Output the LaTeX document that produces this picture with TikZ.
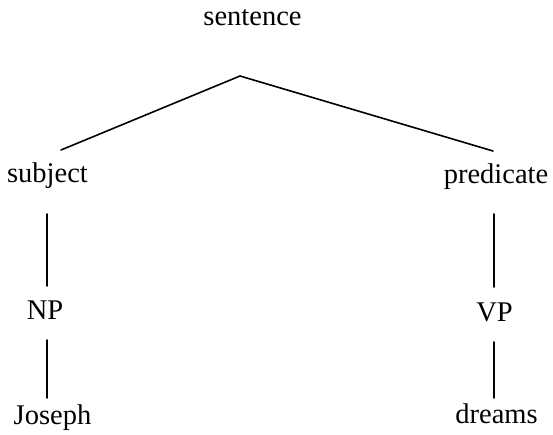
\documentclass[tikz,border=0pt]{standalone}
\usepackage{fontspec}
\setmainfont{Liberation Serif}
\begin{document}
\begin{tikzpicture}[x=1pt,y=-1pt,
  word/.style={anchor=base,inner sep=0pt,font=\fontsize{28.5}{32}\selectfont},
  branch/.style={line width=1.6pt,line cap=round}]
\useasboundingbox (0,0) rectangle (553,435);
% labels (baseline positions)
\node[word] (sentence)  at (252.5,26)  {sentence};
\node[word] (subject)   at (47.5,183)  {subject};
\node[word] (predicate) at (496,184)   {predicate};
\node[word] (np)        at (45,319)    {NP};
\node[word] (vp)        at (494.5,321) {VP};
\node[word] (joseph)    at (52.5,424)  {Joseph};
\node[word] (dreams)    at (496.5,423) {dreams};
% branch end points
\coordinate (apex)   at (240,76);
\coordinate (subjT)  at (61,150);
\coordinate (predT)  at (493,151);
\coordinate (subjB)  at (47,214);
\coordinate (npT)    at (47,286);
\coordinate (npB)    at (47,340);
\coordinate (josT)   at (47,398);
\coordinate (predB)  at (494,214);
\coordinate (vpT)    at (494,287);
\coordinate (vpB)    at (494,342);
\coordinate (drmT)   at (494,398);
% branches
\draw[branch] (subjT) -- (apex) -- (predT);
\draw[branch] (subjB) -- (npT);
\draw[branch] (npB) -- (josT);
\draw[branch] (predB) -- (vpT);
\draw[branch] (vpB) -- (drmT);
\end{tikzpicture}
\end{document}
